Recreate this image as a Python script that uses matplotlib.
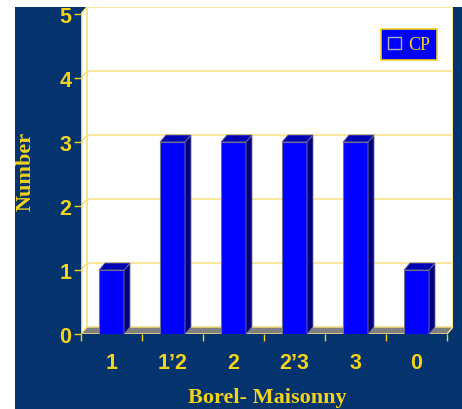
import matplotlib.pyplot as plt
from matplotlib.patches import Polygon, Rectangle
from matplotlib.lines import Line2D

# Borel-Maisonny grades and patient counts
categories = ['1', '1’2', '2', '2’3', '3', '0']
counts = [1, 3, 3, 3, 3, 1]
series_name = 'CP'

navy = '#04336E'
gold = '#F2D21B'
pale = '#F7E38A'
blue = '#0000FF'
side_blue = '#000080'
top_blue = '#0000B4'

fig = plt.figure(figsize=(4.62, 4.10), dpi=100, facecolor='white')
fig.patches.append(Rectangle((15 / 462, 0), 1, 1 - 8 / 410, transform=fig.transFigure,
                             facecolor=navy, edgecolor='none', zorder=-5))

ax = fig.add_axes([81 / 462, 75 / 410, 372 / 462, 327 / 410])
ax.set_facecolor('none')
for s in ax.spines.values():
    s.set_visible(False)

ymax = 5
n = len(categories)
dx, dy = 0.098, 0.109   # depth offset of the back wall
ax.set_xlim(-0.5, n - 0.5 + dx)
ax.set_ylim(0, ymax + dy)

x0, x1 = -0.5, n - 0.5
# back wall, side wall and floor
ax.add_patch(Rectangle((x0 + dx, dy), n, ymax, facecolor='white', edgecolor=pale, lw=1.2, zorder=1))
ax.add_patch(Polygon([(x0, 0), (x0 + dx, dy), (x0 + dx, ymax + dy), (x0, ymax)],
                     facecolor='white', edgecolor=pale, lw=1.2, zorder=1))
ax.add_patch(Polygon([(x0, 0), (x1, 0), (x1 + dx, dy), (x0 + dx, dy)],
                     facecolor='#808080', edgecolor=pale, lw=1.0, zorder=2))
for y in range(1, ymax):
    ax.add_line(Line2D([x0, x0 + dx, x1 + dx], [y, y + dy, y + dy], color=pale, lw=1.2, zorder=1.5))
ax.add_line(Line2D([x0, x0], [0, ymax], color=gold, lw=1.0, zorder=3))

# bars with side and top faces
w = 0.41
xs = list(range(n))
ax.bar(xs, counts, width=w, color=blue, edgecolor='#6F6F8F', lw=0.8, zorder=4, label=series_name)
for x, h in zip(xs, counts):
    r = x + w / 2
    l = x - w / 2
    ax.add_patch(Polygon([(r, 0), (r + dx, dy), (r + dx, h + dy), (r, h)],
                         facecolor=side_blue, edgecolor='#6F6F8F', lw=0.6, zorder=4))
    ax.add_patch(Polygon([(l, h), (r, h), (r + dx, h + dy), (l + dx, h + dy)],
                         facecolor=top_blue, edgecolor='#6F6F8F', lw=0.6, zorder=4))

# axes ticks
ax.set_yticks(range(ymax + 1))
ax.tick_params(axis='y', colors=gold, length=5, width=1, pad=2, labelsize=15.5)
ax.set_xticks(xs)
ax.set_xticklabels(categories)
ax.set_xticks([i - 0.5 for i in range(n + 1)], minor=True)
ax.tick_params(axis='x', which='major', length=0, pad=13, colors=gold, labelsize=15.5)
ax.tick_params(axis='x', which='minor', length=5, width=1, color=gold)
for lab in ax.get_xticklabels() + ax.get_yticklabels():
    lab.set_fontweight('bold')
    lab.set_family('Liberation Sans')

ax.set_xlabel('Borel- Maisonny', family='Liberation Serif', fontweight='bold',
              fontsize=16, color=gold, labelpad=10)
ax.set_ylabel('Number', family='Liberation Serif', fontweight='bold',
              fontsize=16, color=gold, labelpad=17)

leg = ax.legend(loc='upper right', bbox_to_anchor=(437 / 462, 1 - 30 / 410),
                bbox_transform=fig.transFigure, borderaxespad=0, frameon=True,
                fancybox=False, facecolor=blue, edgecolor=gold, framealpha=1,
                prop={'family': 'Liberation Serif', 'size': 13},
                handlelength=0.7, handleheight=0.7, handletextpad=0.4,
                borderpad=0.4)
leg.get_frame().set_linewidth(1.2)
for t in leg.get_texts():
    t.set_color(gold)
for hnd in leg.legend_handles:
    hnd.set_edgecolor('#B0B0C0')
    hnd.set_linewidth(1.0)

fig.savefig('out.png', dpi=100, facecolor='white')
